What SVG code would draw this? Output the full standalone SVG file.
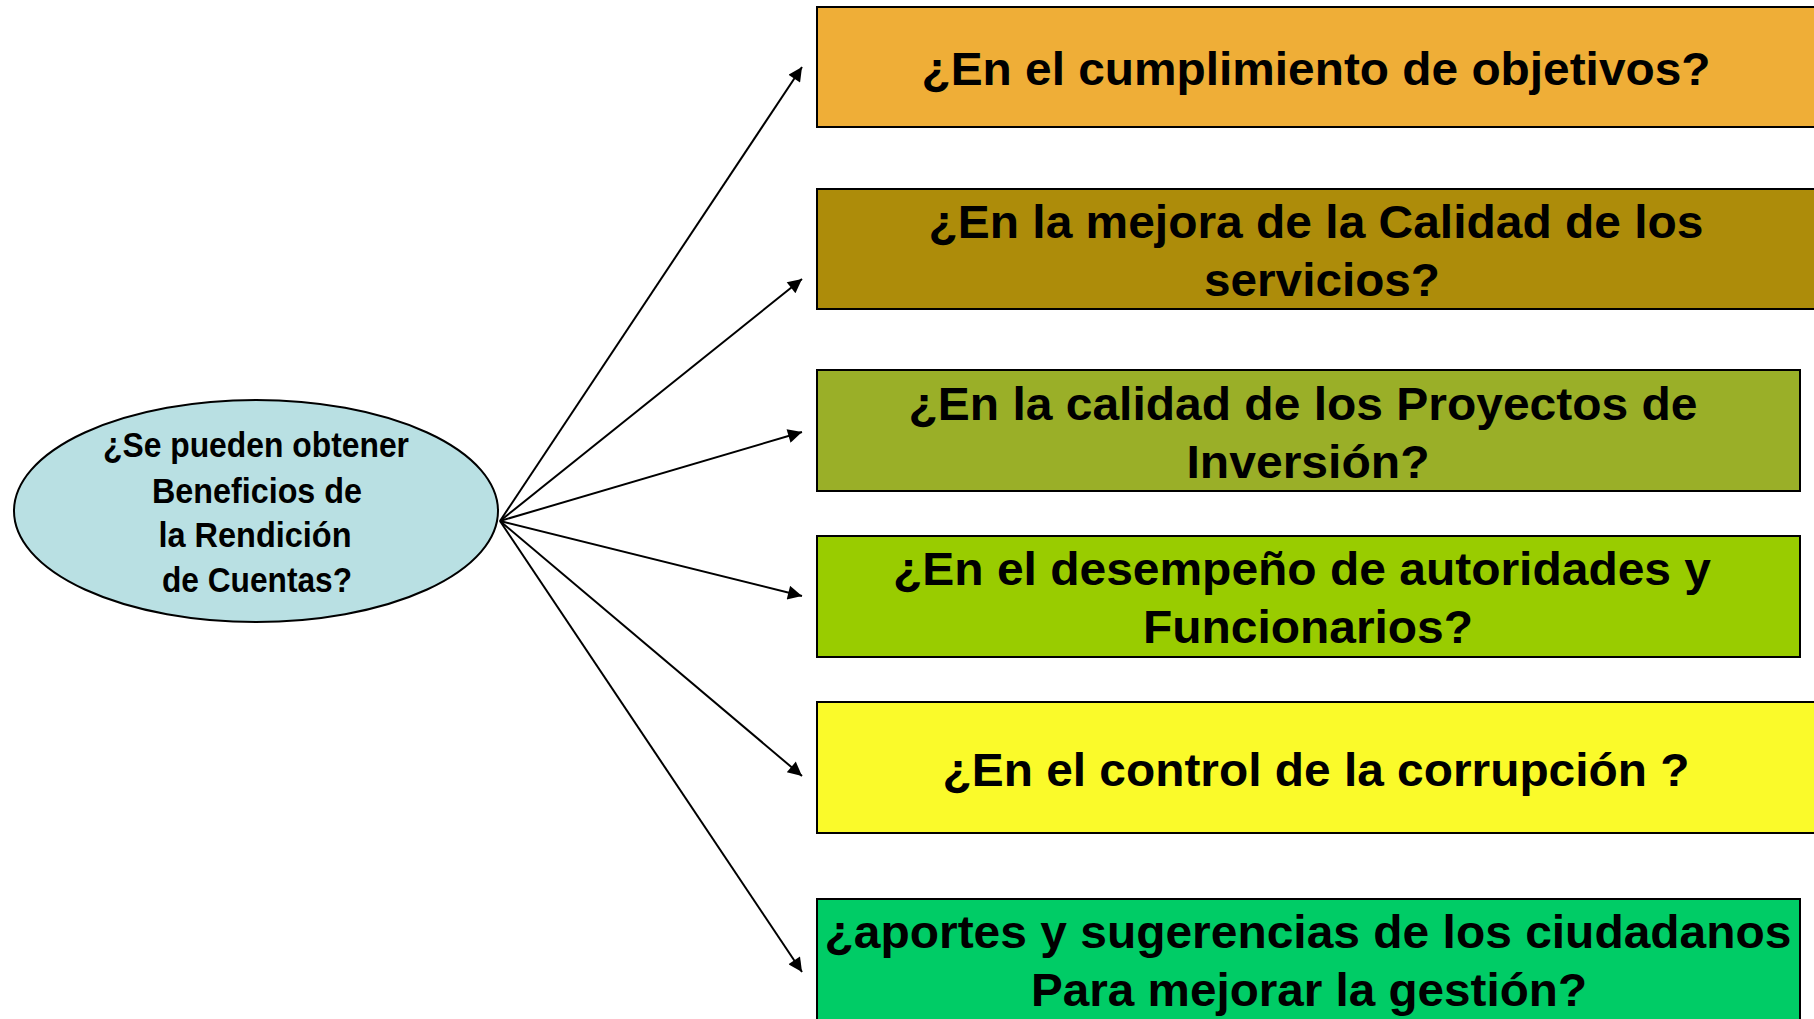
<svg xmlns="http://www.w3.org/2000/svg" width="1814" height="1019" viewBox="0 0 1814 1019">
<style>
.box{stroke:#000;stroke-width:2}
.bt{font-family:"Liberation Sans",Arial,sans-serif;font-weight:bold;font-size:47px;text-anchor:middle;fill:#000}
.et{font-family:"Liberation Sans",Arial,sans-serif;font-weight:bold;font-size:35px;text-anchor:middle;fill:#000}
.c{stroke:#000;stroke-width:2;fill:none;marker-end:url(#ah)}
</style>
<defs>
<marker id="ah" viewBox="0 0 10 10" refX="10" refY="5" markerWidth="8" markerHeight="7" markerUnits="strokeWidth" orient="auto">
<path d="M0,0 L10,5 L0,10 z" fill="#000"/>
</marker>
</defs>
<rect width="1814" height="1019" fill="#fff"/>
<g id="center">
<ellipse cx="256" cy="511" rx="242" ry="111" fill="#B9E0E3" stroke="#000" stroke-width="2"/>
<text class="et" x="256" y="457" textLength="306" lengthAdjust="spacingAndGlyphs">¿Se pueden obtener</text>
<text class="et" x="257" y="503" textLength="210" lengthAdjust="spacingAndGlyphs">Beneficios de</text>
<text class="et" x="255" y="547" textLength="193" lengthAdjust="spacingAndGlyphs">la Rendición</text>
<text class="et" x="257" y="592" textLength="190" lengthAdjust="spacingAndGlyphs">de Cuentas?</text>
</g>
<g id="connectors">
<line class="c" x1="500" y1="521" x2="802" y2="67"/>
<line class="c" x1="500" y1="521" x2="802" y2="279"/>
<line class="c" x1="500" y1="521" x2="802" y2="432"/>
<line class="c" x1="500" y1="521" x2="802" y2="596"/>
<line class="c" x1="500" y1="521" x2="802" y2="776"/>
<line class="c" x1="500" y1="521" x2="802" y2="972"/>
</g>
<g id="box1">
<rect class="box" x="817" y="7" width="1010" height="120" fill="#EFAE37"/>
<text class="bt" x="1316" y="85" textLength="789" lengthAdjust="spacingAndGlyphs">¿En el cumplimiento de objetivos?</text>
</g>
<g id="box2">
<rect class="box" x="817" y="189" width="1010" height="120" fill="#AD8C0A"/>
<text class="bt" x="1316" y="238" textLength="775" lengthAdjust="spacingAndGlyphs">¿En la mejora de la Calidad de los</text>
<text class="bt" x="1322" y="296" textLength="236" lengthAdjust="spacingAndGlyphs">servicios?</text>
</g>
<g id="box3">
<rect class="box" x="817" y="370" width="983" height="121" fill="#9AAF28"/>
<text class="bt" x="1303" y="420" textLength="789" lengthAdjust="spacingAndGlyphs">¿En la calidad de los Proyectos de</text>
<text class="bt" x="1308" y="478" textLength="243" lengthAdjust="spacingAndGlyphs">Inversión?</text>
</g>
<g id="box4">
<rect class="box" x="817" y="536" width="983" height="121" fill="#99CC00"/>
<text class="bt" x="1302" y="585" textLength="818" lengthAdjust="spacingAndGlyphs">¿En el desempeño de autoridades y</text>
<text class="bt" x="1308" y="643" textLength="330" lengthAdjust="spacingAndGlyphs">Funcionarios?</text>
</g>
<g id="box5">
<rect class="box" x="817" y="702" width="1010" height="131" fill="#FAFA2A"/>
<text class="bt" x="1316" y="786" textLength="747" lengthAdjust="spacingAndGlyphs">¿En el control de la corrupción ?</text>
</g>
<g id="box6">
<rect class="box" x="817" y="899" width="983" height="140" fill="#00CC66"/>
<text class="bt" x="1308" y="948" textLength="967" lengthAdjust="spacingAndGlyphs">¿aportes y sugerencias de los ciudadanos</text>
<text class="bt" x="1309" y="1006" textLength="556" lengthAdjust="spacingAndGlyphs">Para mejorar la gestión?</text>
</g>
</svg>
